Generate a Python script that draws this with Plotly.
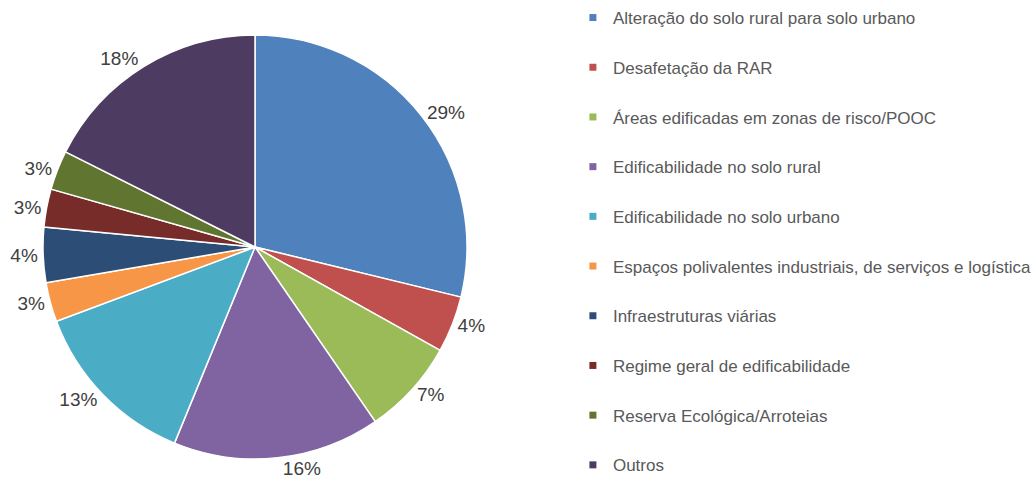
import plotly.graph_objects as go

# Share of cases per category (%)
labels = [
    "Alteração do solo rural para solo urbano",
    "Desafetação da RAR",
    "Áreas edificadas em zonas de risco/POOC",
    "Edificabilidade no solo rural",
    "Edificabilidade no solo urbano",
    "Espaços polivalentes industriais, de serviços e logística",
    "Infraestruturas viárias",
    "Regime geral de edificabilidade",
    "Reserva Ecológica/Arroteias",
    "Outros",
]
values = [28.8, 4.3, 7.3, 15.8, 13.1, 3.0, 4.2, 2.9, 3.0, 17.6]
colors = ["#4F81BD", "#C0504D", "#9BBB59", "#8064A2", "#4BACC6",
          "#F79646", "#2C4D75", "#772C2A", "#5F7530", "#4D3B62"]

W, H = 1036, 479
# pie box in pixels
cx, cy, r = 255, 247, 212

fig = go.Figure()

fig.add_trace(go.Pie(
    labels=labels,
    values=values,
    sort=False,
    direction="clockwise",
    rotation=0,
    marker=dict(colors=colors, line=dict(color="white", width=1.5)),
    textposition="outside",
    texttemplate="%{percent:.0%}",
    textfont=dict(size=19, color="#404040"),
    showlegend=False,
    hoverinfo="label+percent",
    domain=dict(x=[(cx - r) / W, (cx + r) / W],
                y=[(H - cy - r) / H, (H - cy + r) / H]),
))

# legend entries (spaced out like the original)
for lab, c in zip(labels, colors):
    fig.add_trace(go.Scatter(
        x=[None], y=[None], mode="markers", name=lab, legendgroup=lab,
        marker=dict(symbol="square", size=7, color=c),
    ))

fig.update_xaxes(visible=False)
fig.update_yaxes(visible=False)

fig.update_layout(
    width=W, height=H,
    margin=dict(l=0, r=0, t=0, b=0, autoexpand=False),
    paper_bgcolor="white",
    plot_bgcolor="white",
    font=dict(family="Liberation Sans, Arial, sans-serif", color="#595959"),
    legend=dict(
        x=0.553, y=1.0, xanchor="left", yanchor="top",
        font=dict(size=17, color="#595959"),
        tracegroupgap=24.6,
        itemclick=False,
    ),
)

# drop the browser's default body margin so the figure sits at the page corner
fig.write_html("out.html", config={"displayModeBar": False},
               post_script="document.body.style.margin = '0';")
